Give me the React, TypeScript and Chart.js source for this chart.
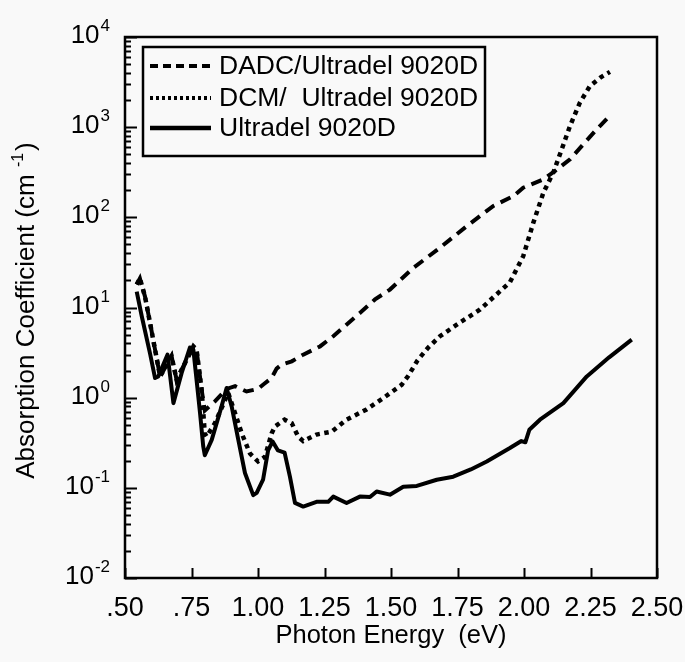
import React, { useEffect, useRef } from "react";
import { Chart, registerables } from "chart.js";

Chart.register(...registerables);

// ---------- data ----------
const xTickValues = [0.5, 0.75, 1.0, 1.25, 1.5, 1.75, 2.0, 2.25, 2.5];
const yDecadeExponents = [-2, -1, 0, 1, 2, 3, 4];
const seriesLabels = ["DADC/Ultradel 9020D", "DCM/  Ultradel 9020D", "Ultradel 9020D"];
const xAxisTitle = "Photon Energy  (eV)";
const yAxisTitleMain = "Absorption Coefficient (cm ";
const yAxisTitleSup = "-1";
const yAxisTitleEnd = ")";

const dadcEnergy = [0.544, 0.556, 0.575, 0.594, 0.613, 0.632, 0.675, 0.694, 0.757, 0.769,
  0.788, 0.80, 0.838, 0.882, 0.914, 0.957, 1.0, 1.02, 1.051, 1.07,
  1.089, 1.127, 1.17, 1.233, 1.283, 1.383, 1.44, 1.496, 1.584, 1.684,
  1.785, 1.885, 1.96, 1.997, 2.073, 2.117, 2.173, 2.223, 2.273, 2.323];
const dadcAlpha = [18, 21, 13.3, 6.8, 3.4, 1.72, 2.88, 1.58, 3.7, 3.4,
  1.23, 0.72, 0.91, 1.25, 1.34, 1.17, 1.25, 1.4, 1.65, 2.1,
  2.33, 2.53, 3.0, 3.7, 4.8, 8.7, 12.3, 15.8, 27.5, 46,
  80, 134, 172, 213, 264, 327, 440, 647, 945, 1340];

const dcmEnergy = [0.544, 0.556, 0.575, 0.594, 0.613, 0.632, 0.675, 0.694, 0.757, 0.769,
  0.788, 0.80, 0.807, 0.838, 0.888, 0.914, 0.939, 0.97, 1.0, 1.026,
  1.051, 1.064, 1.10, 1.127, 1.151, 1.17, 1.22, 1.277, 1.333, 1.408,
  1.471, 1.54, 1.565, 1.60, 1.64, 1.684, 1.759, 1.835, 1.885, 1.947,
  1.997, 2.035, 2.073, 2.11, 2.142, 2.173, 2.21, 2.248, 2.29, 2.323];
const dcmAlpha = [18, 21, 13.3, 6.8, 3.4, 1.72, 2.88, 1.58, 3.7, 3.4,
  1.23, 0.40, 0.37, 0.52, 1.13, 0.67, 0.40, 0.24, 0.196, 0.22,
  0.40, 0.48, 0.57, 0.52, 0.37, 0.33, 0.39, 0.42, 0.57, 0.74,
  0.99, 1.39, 1.75, 2.6, 3.6, 4.8, 6.8, 9.5, 13, 19,
  37, 87, 188, 313, 570, 1030, 1870, 2860, 3600, 4100];

const ultEnergy = [0.544, 0.563, 0.594, 0.613, 0.625, 0.66, 0.682, 0.713, 0.744, 0.757,
  0.769, 0.782, 0.794, 0.80, 0.826, 0.863, 0.882, 0.901, 0.926, 0.951,
  0.982, 0.995, 1.019, 1.038, 1.055, 1.075, 1.10, 1.12, 1.139, 1.17,
  1.22, 1.264, 1.283, 1.333, 1.383, 1.421, 1.446, 1.496, 1.546, 1.597,
  1.672, 1.734, 1.80, 1.86, 1.947, 1.99, 2.005, 2.02, 2.06, 2.148,
  2.236, 2.32, 2.405];
const ultAlpha = [15, 8.0, 3.1, 1.65, 1.72, 3.0, 0.87, 1.88, 3.6, 3.4,
  1.58, 0.68, 0.29, 0.23, 0.34, 0.80, 1.28, 0.80, 0.34, 0.146,
  0.083, 0.088, 0.123, 0.26, 0.327, 0.26, 0.246, 0.133, 0.068, 0.062,
  0.070, 0.070, 0.080, 0.068, 0.080, 0.079, 0.091, 0.084, 0.103, 0.105,
  0.123, 0.133, 0.16, 0.196, 0.276, 0.33, 0.32, 0.44, 0.57, 0.87,
  1.72, 2.8, 4.4];

// ---------- styling ----------
const FONT = "'Liberation Sans', Arial, Helvetica, sans-serif";
const BG = "#f9f9f9";
const INK = "#000000";

function fmtX(v: number) {
  const s = v.toFixed(2);
  return v < 1 ? s.slice(1) : s;
}

const decorPlugin = {
  id: "decor",
  beforeDraw(chart: any) {
    const ctx = chart.ctx;
    ctx.save();
    ctx.fillStyle = BG;
    ctx.fillRect(0, 0, chart.width, chart.height);
    ctx.restore();
  },
  afterDraw(chart: any) {
    const ctx = chart.ctx as CanvasRenderingContext2D;
    const a = chart.chartArea;
    const xs = chart.scales.x;
    const ys = chart.scales.y;
    ctx.save();
    ctx.strokeStyle = INK;
    ctx.fillStyle = INK;
    ctx.setLineDash([]);

    // frame
    ctx.lineWidth = 2.5;
    ctx.strokeRect(a.left, a.top, a.right - a.left, a.bottom - a.top);

    // y ticks (inward)
    ctx.lineWidth = 2;
    ctx.beginPath();
    for (const k of yDecadeExponents) {
      const py = Math.round(ys.getPixelForValue(Math.pow(10, k))) + 0.5;
      ctx.moveTo(a.left, py);
      ctx.lineTo(a.left + 12, py);
      if (k < 4) {
        for (let m = 2; m <= 9; m++) {
          const pm = Math.round(ys.getPixelForValue(m * Math.pow(10, k))) + 0.5;
          ctx.moveTo(a.left, pm);
          ctx.lineTo(a.left + 6, pm);
        }
      }
    }
    // x ticks (inward)
    for (const v of xTickValues) {
      const px = Math.round(xs.getPixelForValue(v)) + 0.5;
      ctx.moveTo(px, a.bottom);
      ctx.lineTo(px, a.bottom - 10);
    }
    ctx.stroke();

    // y tick labels 10^k
    for (const k of yDecadeExponents) {
      const py = ys.getPixelForValue(Math.pow(10, k));
      const base = py + 6;
      ctx.font = `17px ${FONT}`;
      const exp = String(k);
      const we = ctx.measureText(exp).width;
      ctx.font = `26px ${FONT}`;
      const wb = ctx.measureText("10").width;
      const right = 110;
      ctx.textAlign = "left";
      ctx.textBaseline = "alphabetic";
      ctx.fillText("10", right - we - 1 - wb, base);
      ctx.font = `17px ${FONT}`;
      ctx.fillText(exp, right - we, base - 12);
    }

    // x tick labels
    ctx.font = `27px ${FONT}`;
    ctx.textAlign = "center";
    ctx.textBaseline = "alphabetic";
    for (const v of xTickValues) {
      ctx.fillText(fmtX(v), xs.getPixelForValue(v), 616);
    }

    // x title
    ctx.font = `25.5px ${FONT}`;
    ctx.fillText(xAxisTitle, (a.left + a.right) / 2, 643);

    // y title (rotated)
    ctx.save();
    ctx.translate(34, (a.top + a.bottom) / 2 + 3);
    ctx.rotate(-Math.PI / 2);
    ctx.textAlign = "left";
    ctx.font = `26px ${FONT}`;
    const w1 = ctx.measureText(yAxisTitleMain).width;
    const w3 = ctx.measureText(yAxisTitleEnd).width;
    ctx.font = `16px ${FONT}`;
    const w2 = ctx.measureText(yAxisTitleSup).width;
    const total = w1 + w2 + 2 + w3;
    let cx = -total / 2;
    ctx.font = `26px ${FONT}`;
    ctx.fillText(yAxisTitleMain, cx, 0);
    cx += w1;
    ctx.font = `16px ${FONT}`;
    ctx.fillText(yAxisTitleSup, cx, -11);
    cx += w2 + 2;
    ctx.font = `26px ${FONT}`;
    ctx.fillText(yAxisTitleEnd, cx, 0);
    ctx.restore();

    // legend
    const lx = 143, ly = 47, lw = 342, lh = 109;
    ctx.fillStyle = BG;
    ctx.fillRect(lx, ly, lw, lh);
    ctx.fillStyle = INK;
    ctx.lineWidth = 2.5;
    ctx.strokeRect(lx, ly, lw, lh);
    const rows = [66, 98, 128];
    const dashes = [[8, 5], [3, 3], []];
    const widths = [4, 4, 4.5];
    for (let i = 0; i < 3; i++) {
      ctx.beginPath();
      ctx.setLineDash(dashes[i]);
      ctx.lineWidth = widths[i];
      ctx.lineCap = "butt";
      ctx.moveTo(150, rows[i]);
      ctx.lineTo(211, rows[i]);
      ctx.stroke();
      ctx.setLineDash([]);
      ctx.font = `26.5px ${FONT}`;
      ctx.textAlign = "left";
      ctx.textBaseline = "middle";
      ctx.fillText(seriesLabels[i], 219, rows[i] + 1);
    }
    ctx.restore();
  },
};

export default function App() {
  const ref = useRef<HTMLCanvasElement>(null);
  useEffect(() => {
    const toPts = (xs: number[], ys: number[]) => xs.map((x, i) => ({ x, y: ys[i] }));
    const chart = new Chart(ref.current as HTMLCanvasElement, {
      type: "line",
      data: {
        datasets: [
          {
            label: seriesLabels[0],
            data: toPts(dadcEnergy, dadcAlpha),
            borderColor: INK,
            borderWidth: 4,
            borderDash: [11, 7],
            pointRadius: 0,
            tension: 0,
            fill: false,
          },
          {
            label: seriesLabels[1],
            data: toPts(dcmEnergy, dcmAlpha),
            borderColor: INK,
            borderWidth: 4.5,
            borderDash: [4.5, 4.5],
            pointRadius: 0,
            tension: 0,
            fill: false,
          },
          {
            label: seriesLabels[2],
            data: toPts(ultEnergy, ultAlpha),
            borderColor: INK,
            borderWidth: 4,
            borderJoinStyle: "round",
            pointRadius: 0,
            tension: 0,
            fill: false,
          },
        ] as any,
      },
      options: {
        responsive: false,
        animation: false,
        devicePixelRatio: 1,
        layout: { padding: { top: 37, right: 28, left: 0, bottom: 0 } },
        plugins: { legend: { display: false }, tooltip: { enabled: false }, title: { display: false } },
        scales: {
          x: {
            type: "linear",
            min: 0.5,
            max: 2.5,
            ticks: { display: false },
            grid: { display: false },
            border: { display: false },
            afterFit: (s: any) => { s.height = 84; },
          },
          y: {
            type: "logarithmic",
            min: 0.01,
            max: 10000,
            ticks: { display: false },
            grid: { display: false },
            border: { display: false },
            afterFit: (s: any) => { s.width = 125; },
          },
        },
      } as any,
      plugins: [decorPlugin],
    });
    return () => chart.destroy();
  }, []);
  return (
    <div style={{ position: "fixed", left: 0, top: 0, width: 685, height: 662 }}>
      <canvas ref={ref} width={685} height={662} style={{ display: "block", width: 685, height: 662 }} />
    </div>
  );
}
